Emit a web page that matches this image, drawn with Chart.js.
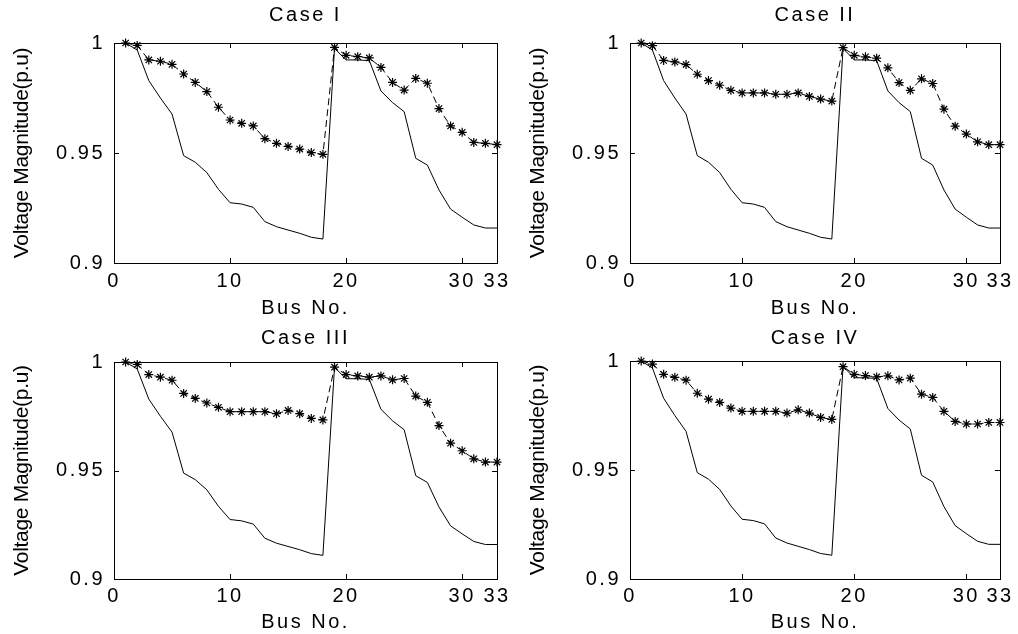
<!DOCTYPE html>
<html>
<head>
<meta charset="utf-8">
<script src="https://cdn.jsdelivr.net/npm/chart.js@4"></script>
<style>
  body { margin: 0; background: #fff; }
  #wrap { position: relative; width: 1018px; height: 634px; }
  canvas { position: absolute; }
</style>
</head>
<body>
<div id="wrap">
  <canvas id="c1" width="509" height="320" style="left:0;top:0"></canvas>
  <canvas id="c2" width="509" height="320" style="left:509px;top:0"></canvas>
  <canvas id="c3" width="509" height="314" style="left:0;top:320px"></canvas>
  <canvas id="c4" width="509" height="314" style="left:509px;top:320px"></canvas>
</div>
<script>
// bus numbers of the 33-bus feeder
const busNo = [1, 2, 3, 4, 5, 6, 7, 8, 9, 10, 11, 12, 13, 14, 15, 16, 17,
               18, 19, 20, 21, 22, 23, 24, 25, 26, 27, 28, 29, 30, 31, 32, 33];

// base case (solid line, same in all four plots)
const baseCase = [1.0000, 0.9968, 0.9829, 0.9750, 0.9677, 0.9488, 0.9458, 0.9411, 0.9335, 0.9274, 0.9268,
                  0.9253, 0.9188, 0.9165, 0.9150, 0.9135, 0.9117, 0.9109, 0.9975, 0.9923, 0.9923, 0.9920,
                  0.9782, 0.9729, 0.9688, 0.9476, 0.9445, 0.9332, 0.9245, 0.9208, 0.9173, 0.9159, 0.9159];

// compensated cases (dashed line with stars)
const caseI = [1.0000, 0.9989, 0.9923, 0.9917, 0.9903, 0.9859, 0.9821, 0.9779, 0.9708, 0.9650, 0.9635,
               0.9623, 0.9565, 0.9544, 0.9530, 0.9518, 0.9502, 0.9494, 0.9980, 0.9944, 0.9938, 0.9932,
               0.9889, 0.9821, 0.9786, 0.9839, 0.9817, 0.9702, 0.9623, 0.9594, 0.9548, 0.9544, 0.9538];
const caseII = [1.0000, 0.9988, 0.9921, 0.9914, 0.9902, 0.9858, 0.9829, 0.9808, 0.9785, 0.9773, 0.9773,
                0.9773, 0.9767, 0.9767, 0.9773, 0.9757, 0.9745, 0.9736, 0.9979, 0.9944, 0.9937, 0.9931,
                0.9887, 0.9820, 0.9785, 0.9837, 0.9816, 0.9699, 0.9622, 0.9586, 0.9551, 0.9538, 0.9538];
const caseIII = [1.0000, 0.9989, 0.9942, 0.9930, 0.9916, 0.9855, 0.9832, 0.9811, 0.9791, 0.9771, 0.9771,
                 0.9771, 0.9771, 0.9762, 0.9777, 0.9762, 0.9740, 0.9733, 0.9976, 0.9942, 0.9936, 0.9930,
                 0.9936, 0.9918, 0.9924, 0.9843, 0.9814, 0.9707, 0.9626, 0.9591, 0.9554, 0.9539, 0.9539];
const caseIV = [1.0000, 0.9986, 0.9939, 0.9925, 0.9912, 0.9852, 0.9825, 0.9810, 0.9784, 0.9769, 0.9769,
                0.9769, 0.9769, 0.9761, 0.9776, 0.9761, 0.9741, 0.9732, 0.9974, 0.9939, 0.9933, 0.9927,
                0.9932, 0.9913, 0.9921, 0.9848, 0.9833, 0.9769, 0.9723, 0.9711, 0.9711, 0.9718, 0.9718];

const xTicks = [0, 10, 20, 30, 33];
const yTicks = [0.9, 0.95, 1];

const font = { family: '"Liberation Sans", Arial, sans-serif', size: 20, weight: 'normal' };
const yTitleFont = { family: '"Liberation Sans", Arial, sans-serif', size: 21, weight: 'normal' };

// matlab style box with inward ticks on all four sides
const framePlugin = {
    id: 'frame',
    beforeDraw(chart) {
        // the original text is stretched sideways; spacing it out gets close
        chart.ctx.letterSpacing = '2.5px';
    },
    afterDatasetsDraw(chart) {
        const { ctx, chartArea: a, scales: { x, y } } = chart;
        ctx.save();
        ctx.strokeStyle = '#000';
        ctx.lineWidth = 1;
        ctx.setLineDash([]);
        ctx.strokeRect(Math.round(a.left) + 0.5, Math.round(a.top) + 0.5,
                       Math.round(a.width), Math.round(a.height));
        ctx.beginPath();
        x.ticks.forEach(t => {
            const px = Math.round(x.getPixelForValue(t.value)) + 0.5;
            ctx.moveTo(px, a.bottom); ctx.lineTo(px, a.bottom - 5);
            ctx.moveTo(px, a.top); ctx.lineTo(px, a.top + 5);
        });
        y.ticks.forEach(t => {
            const py = Math.round(y.getPixelForValue(t.value)) + 0.5;
            ctx.moveTo(a.left, py); ctx.lineTo(a.left + 5, py);
            ctx.moveTo(a.right, py); ctx.lineTo(a.right - 5, py);
        });
        ctx.stroke();
        ctx.restore();
    }
};

function toPoints(values) {
    return busNo.map((b, i) => ({ x: b, y: values[i] }));
}

// the y title is squeezed in the original, so draw it without the extra spacing
function tightTitle(scale) {
    if (scale.drawTitle.tight) return;
    const draw = scale.drawTitle;
    scale.drawTitle = function () {
        const c = this.ctx;
        const ls = c.letterSpacing;
        c.letterSpacing = '-0.3px';
        draw.call(this);
        c.letterSpacing = ls;
    };
    scale.drawTitle.tight = true;
}

function makePanel(id, caseName, caseValues, box) {
    const cv = document.getElementById(id);
    const W = cv.width, H = cv.height;
    const lh = font.size * 1.2;
    const ylh = yTitleFont.size * 1.2;
    const titleTop = box.titleY - lh / 2;
    new Chart(cv, {
        type: 'line',
        data: {
            datasets: [{
                data: toPoints(baseCase),
                borderColor: '#000',
                borderWidth: 1,
                pointRadius: 0,
                clip: false
            }, {
                data: toPoints(caseValues),
                borderColor: '#000',
                borderWidth: 1,
                borderDash: [7, 4],
                pointStyle: 'star',
                pointRadius: 4.5,
                pointBorderColor: '#000',
                pointBorderWidth: 1.2,
                clip: false
            }]
        },
        options: {
            responsive: false,
            animation: false,
            layout: { padding: { left: 0, top: 0, bottom: 0, right: W - box.right } },
            plugins: {
                legend: { display: false },
                tooltip: { enabled: false },
                title: {
                    display: true,
                    fullSize: false,
                    text: caseName,
                    color: '#000',
                    font: font,
                    padding: { top: titleTop, bottom: box.top - titleTop - lh }
                }
            },
            scales: {
                x: {
                    type: 'linear',
                    min: 0,
                    max: 33,
                    grid: { display: false, drawTicks: false },
                    border: { display: false },
                    afterBuildTicks: s => { s.ticks = xTicks.map(v => ({ value: v })); },
                    ticks: {
                        color: '#000',
                        font: font,
                        padding: box.tickPad,
                        autoSkip: false,
                        maxRotation: 0,
                        callback: v => String(v)
                    },
                    title: {
                        display: true,
                        text: 'Bus No.',
                        color: '#000',
                        font: font,
                        padding: { top: 0, bottom: H - box.busY - lh / 2 }
                    },
                    afterFit: s => { s.height = H - box.bottom; s.paddingLeft = 0; s.paddingRight = 0; }
                },
                y: {
                    min: 0.9,
                    max: 1,
                    grid: { display: false, drawTicks: false },
                    border: { display: false },
                    afterBuildTicks: s => { s.ticks = yTicks.map(v => ({ value: v })); },
                    ticks: {
                        color: '#000',
                        font: font,
                        padding: 9,
                        callback: v => String(v)
                    },
                    title: {
                        display: true,
                        text: 'Voltage Magnitude(p.u)',
                        color: '#000',
                        font: yTitleFont,
                        padding: { top: box.left - 92 - ylh / 2, bottom: 0 }
                    },
                    afterFit: s => {
                        s.width = box.left; s.paddingTop = 0; s.paddingBottom = 0;
                        tightTitle(s);
                    }
                }
            }
        },
        plugins: [framePlugin]
    });
}

makePanel('c1', 'Case I', caseI, { left: 114, top: 43, right: 497, bottom: 263, titleY: 15, tickPad: 6, busY: 308 });
makePanel('c2', 'Case II', caseII, { left: 121, top: 43, right: 491, bottom: 263, titleY: 15, tickPad: 6, busY: 308 });
makePanel('c3', 'Case III', caseIII, { left: 114, top: 42, right: 497, bottom: 259, titleY: 18, tickPad: 5, busY: 302 });
makePanel('c4', 'Case IV', caseIV, { left: 121, top: 41, right: 491, bottom: 259, titleY: 18, tickPad: 5, busY: 302 });
</script>
</body>
</html>
